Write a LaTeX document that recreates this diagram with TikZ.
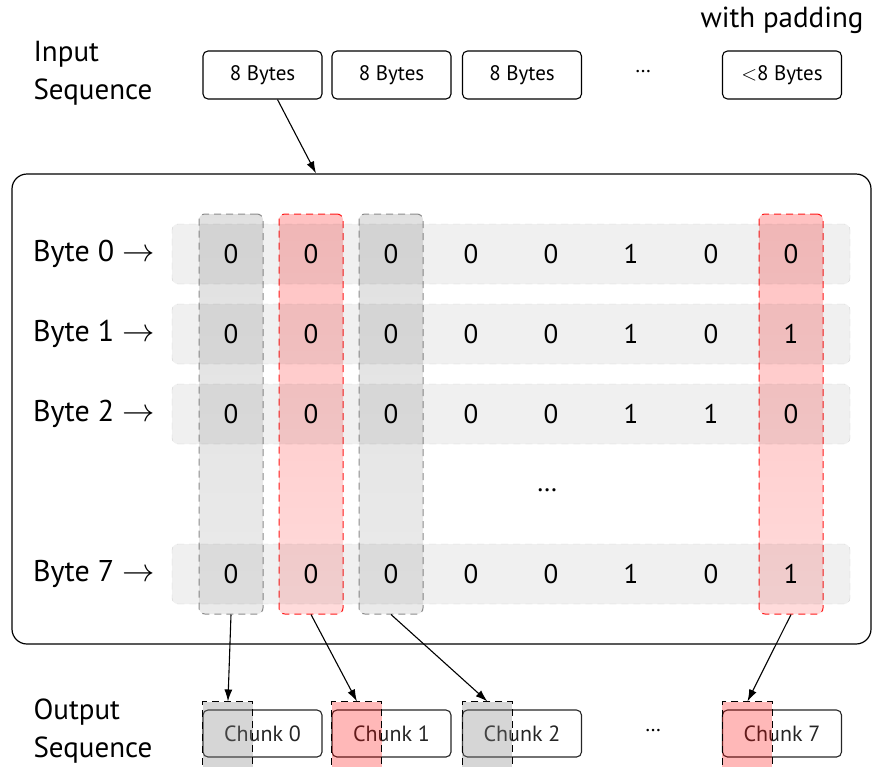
\documentclass[tikz,border=0pt]{standalone}
\usepackage{fontspec}
\setmainfont{PT Sans}
\usetikzlibrary{positioning,arrows.meta,calc}
\newcommand{\bytearrow}{\scalebox{1.3}{$\rightarrow$}}

\begin{document}
\begin{tikzpicture}[x=1pt,y=-1pt]
        \tikzset{
            seqbox/.style={draw, line width=1.1pt, rounded corners=5pt, minimum width=119pt, minimum height=48pt, font=\fontsize{21}{24}\selectfont},
            chunkbox/.style={seqbox, draw=black!85, text=black!85, minimum height=47pt, font=\fontsize{22}{25}\selectfont},
            rowbar/.style={fill=black, fill opacity=0.06, draw=black, draw opacity=0.15, dash pattern=on 7pt off 5pt, rounded corners=6pt, minimum width=678pt, minimum height=60pt},
            graycol/.style={top color=black!12, bottom color=black!8, draw=black!45, line width=1pt, dash pattern=on 7pt off 5pt, rounded corners=6pt, minimum width=64pt, minimum height=400pt},
            redcol/.style={graycol, top color=red!24, bottom color=red!14, draw=red!90},
            grayover/.style={fill=black!50, fill opacity=0.32, draw=black, draw opacity=1, line width=1pt, dash pattern=on 7pt off 5pt, minimum width=50pt, minimum height=72pt, anchor=north west},
            redover/.style={grayover, fill=red, fill opacity=0.28},
            flow/.style={-{Latex[length=12pt,width=8pt]}, line width=1.1pt},
            bit/.style={font=\fontsize{27}{30}\selectfont},
            bytelabel/.style={anchor=east, font=\fontsize{30}{34}\selectfont},
            title/.style={align=left, anchor=west, font=\fontsize{29}{38}\selectfont},
        }

        \useasboundingbox (0,0) rectangle (872,766);

        \node[title] (inlabel) at (30,73) {Input\\Sequence};
        \node[seqbox] (in0) at (262.5,75) {8 Bytes};
        \node[seqbox] (in1) at (391.5,75) {8 Bytes};
        \node[seqbox] (in2) at (522,75) {8 Bytes};
        \node[font=\fontsize{21}{24}\selectfont] (indots) at (643,72) {\dots};
        \node[seqbox] (in7) at (782,75) {$<$8 Bytes};
        \node[font=\fontsize{29}{34}\selectfont] (padding) at (782,20) {with padding};

        \node[draw, line width=1.2pt, rounded corners=15pt, minimum width=859pt, minimum height=470pt] (frame) at (441.5,409) {};
        \draw[flow] ([xshift=15pt]in0.south) -- ([xshift=-125.5pt]frame.north);

        \node[graycol] (col0) at (231,414) {};
        \node[redcol] (col1) at (311,414) {};
        \node[graycol] (col2) at (391,414) {};
        \node[redcol] (col7) at (791,414) {};

        \foreach \r/\yy/\bits in {0/254/{0,0,0,0,0,1,0,0}, 1/334/{0,0,0,0,0,1,0,1}, 2/414/{0,0,0,0,0,1,1,0}, 7/574/{0,0,0,0,0,1,0,1}} {
            \node[rowbar] (row\r) at (511,\yy) {};
            \node[bytelabel] (label\r) at (158,\yy) {Byte \r\ \bytearrow};
            \foreach \v [count=\i from 0] in \bits
                \node[bit] (b\r\i) at (231+80*\i,\yy) {\v};
        }
        \node[bit] (rowdots) at (547,490) {\dots};

        \node[title] (outlabel) at (30,731) {Output\\Sequence};
        \node[chunkbox] (ch0) at (262.5,733.5) {Chunk 0};
        \node[chunkbox] (ch1) at (391.5,733.5) {Chunk 1};
        \node[chunkbox] (ch2) at (522,733.5) {Chunk 2};
        \node[font=\fontsize{21}{24}\selectfont] (outdots) at (653,731) {\dots};
        \node[chunkbox] (ch7) at (782,733.5) {Chunk 7};

        \node[grayover] (ov0) at ([yshift=8pt]ch0.north west) {};
        \node[redover] (ov1) at ([yshift=8pt]ch1.north west) {};
        \node[grayover] (ov2) at ([yshift=8pt]ch2.north west) {};
        \node[redover] (ov7) at ([yshift=8pt]ch7.north west) {};

        \draw[flow] (col0.south) -- (ov0.north);
        \draw[flow] (col1.south) -- (ov1.north);
        \draw[flow] (col2.south) -- (ov2.north);
        \draw[flow] (col7.south) -- (ov7.north);
    \end{tikzpicture}
\end{document}
